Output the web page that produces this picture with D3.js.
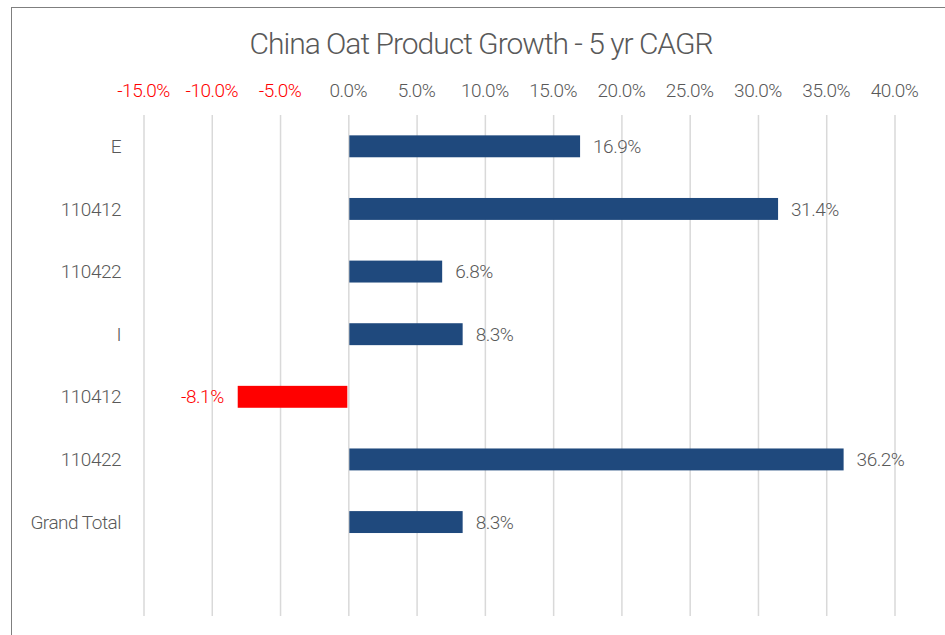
<!DOCTYPE html>
<html>
<head>
<meta charset="utf-8">
<title>China Oat Product Growth</title>
<script src="https://cdn.jsdelivr.net/npm/d3@7"></script>
<style>
  body { margin: 0; background: #fff; }
  svg text { font-family: Roboto, "Liberation Sans", sans-serif; font-weight: 300; letter-spacing: -0.5px; }
  .grid line { stroke: #d9d9d9; stroke-width: 1.5; }
  .grid path { display: none; }
</style>
</head>
<body>
<script>
// data
var categories = ["E", "110412", "110422", "I", "110412", "110422", "Grand Total", ""];
var values = [16.9, 31.4, 6.8, 8.3, -8.1, 36.2, 8.3];
var tickValues = [-15, -10, -5, 0, 5, 10, 15, 20, 25, 30, 35, 40];

var width = 945, height = 635;
var svg = d3.select("body").append("svg")
    .attr("width", width)
    .attr("height", height);

// frame
svg.append("rect")
    .attr("x", 11.5).attr("y", 7.5)
    .attr("width", width).attr("height", height)
    .attr("fill", "#fff")
    .attr("stroke", "#7f7f7f")
    .attr("stroke-width", 1);

svg.append("text")
    .attr("x", 481).attr("y", 54)
    .attr("text-anchor", "middle")
    .attr("fill", "#595959")
    .style("font-size", "30px")
    .style("letter-spacing", "-1px")
    .text("China Oat Product Growth - 5 yr CAGR");

var plotTop = 115, plotBottom = 616;

var x = d3.scaleLinear().domain([-15, 40]).range([143.5, 894.5]);
var y = d3.scaleBand()
    .domain(d3.range(categories.length))
    .range([plotTop, plotBottom])
    .paddingInner(0.65)
    .paddingOuter(0.325);

// gridlines
svg.append("g")
    .attr("class", "grid")
    .attr("transform", "translate(0," + plotTop + ")")
    .call(d3.axisBottom(x).tickValues(tickValues).tickSize(plotBottom - plotTop).tickFormat(""));

// top axis labels
svg.append("g")
    .selectAll("text")
    .data(tickValues)
    .enter()
    .append("text")
    .attr("x", function(d){ return x(d); })
    .attr("y", 97)
    .attr("text-anchor", "middle")
    .attr("fill", function(d){ return d < 0 ? "#ff0000" : "#595959"; })
    .style("font-size", "19px")
    .text(function(d){ return d.toFixed(1) + "%"; });

// category labels
svg.append("g")
    .selectAll("text")
    .data(categories)
    .enter()
    .append("text")
    .attr("x", 121)
    .attr("y", function(d, i){ return y(i) + y.bandwidth() / 2; })
    .attr("dy", "0.35em")
    .attr("text-anchor", "end")
    .attr("fill", "#595959")
    .style("font-size", "19px")
    .text(function(d){ return d; });

// bars
svg.append("g")
    .selectAll("rect")
    .data(values)
    .enter()
    .append("rect")
    .attr("x", function(d){ return d < 0 ? x(d) : x(0) + 1; })
    .attr("y", function(d, i){ return y(i); })
    .attr("width", function(d){ return Math.abs(x(d) - x(0)) - (d < 0 ? 1 : 0); })
    .attr("height", y.bandwidth())
    .attr("fill", function(d){ return d < 0 ? "#ff0000" : "#1f497d"; });

// data labels
svg.append("g")
    .selectAll("text")
    .data(values)
    .enter()
    .append("text")
    .attr("x", function(d){ return d < 0 ? x(d) - 14 : x(d) + 14; })
    .attr("y", function(d, i){ return y(i) + y.bandwidth() / 2; })
    .attr("dy", "0.35em")
    .attr("text-anchor", function(d){ return d < 0 ? "end" : "start"; })
    .attr("fill", function(d){ return d < 0 ? "#ff0000" : "#595959"; })
    .style("font-size", "19px")
    .text(function(d){ return d.toFixed(1) + "%"; });
</script>
</body>
</html>
